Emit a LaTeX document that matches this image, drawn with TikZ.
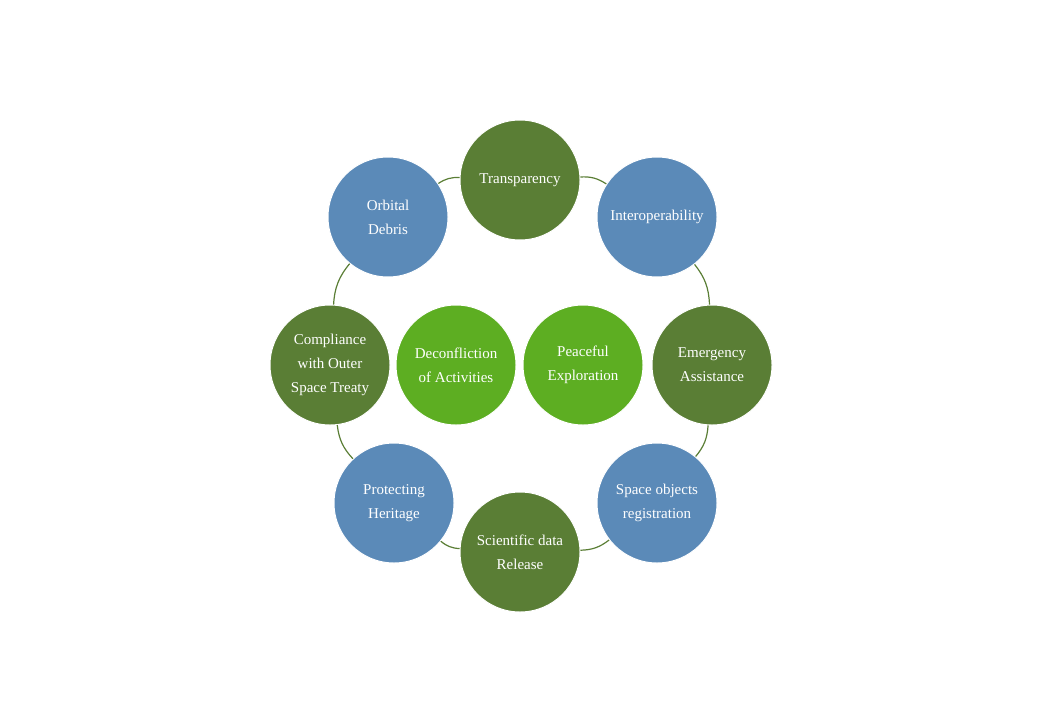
\documentclass[tikz,border=0pt]{standalone}
\usepackage{fontspec}
\setmainfont{Liberation Serif}
\definecolor{ringblue}{HTML}{5B8AB8}
\definecolor{ringgreen}{HTML}{5A7E35}
\definecolor{coregreen}{HTML}{5DAE22}
\tikzset{
  bubble/.style={circle, minimum size=120pt, inner sep=0pt, text=white, align=center, font=\fontsize{15}{24}\selectfont},
  bluebub/.style={bubble, fill=ringblue, draw=white, line width=1pt},
  greenbub/.style={bubble, fill=ringgreen, draw=white, line width=1pt},
  corebub/.style={bubble, fill=coregreen, draw=white, line width=1pt},
  ring/.style={ringgreen, line width=1.2pt}
}
\begin{document}
\begin{tikzpicture}[x=1pt,y=-1pt]
  \useasboundingbox (0,0) rectangle (1040,720);
  % Outer ring
  \node[greenbub] (transp) at (520,180) {Transparency};
  \node[bluebub]  (inter)  at (657,217) {Interoperability};
  \node[greenbub] (emerg)  at (712,365) {Emergency\\Assistance};
  \node[bluebub]  (spaceobj) at (657,503) {Space objects\\registration};
  \node[greenbub] (science) at (520,552) {Scientific data\\Release};
  \node[bluebub]  (heritage) at (394,503) {Protecting\\Heritage};
  \node[greenbub] (comply) at (330,365) {Compliance\\with Outer\\Space Treaty};
  \node[bluebub]  (debris) at (388,217) {Orbital\\Debris};
  % Centre
  \node[corebub] (deconf) at (456,365) {Deconfliction\\of Activities};
  \node[corebub] (peace)  at (583,365) {Peaceful\\Exploration};
  % Connectors
  \begin{scope}[on background layer/.style={}]
  \end{scope}
  \draw[ring] (transp) to[bend left=18] (inter);
  \draw[ring] (inter) to[bend left=18] (emerg);
  \draw[ring] (emerg) to[bend left=18] (spaceobj);
  \draw[ring] (spaceobj) to[bend left=18] (science);
  \draw[ring] (science) to[bend left=18] (heritage);
  \draw[ring] (heritage) to[bend left=18] (comply);
  \draw[ring] (comply) to[bend left=18] (debris);
  \draw[ring] (debris) to[bend left=18] (transp);
\end{tikzpicture}
\end{document}
